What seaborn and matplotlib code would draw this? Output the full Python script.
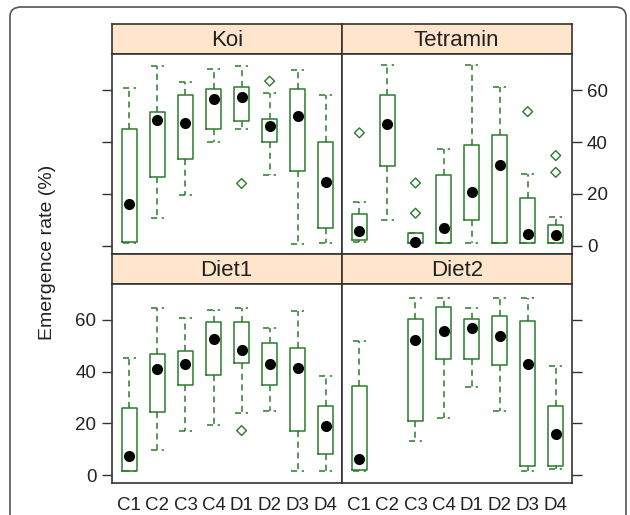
import matplotlib
matplotlib.use("Agg")
import matplotlib.pyplot as plt
from matplotlib.patches import FancyBboxPatch
import numpy as np
import pandas as pd
import seaborn as sns

# groups on the x axis
groups = ["C1", "C2", "C3", "C4", "D1", "D2", "D3", "D4"]
panels = ["Koi", "Tetramin", "Diet1", "Diet2"]

# five-number summaries: (low whisker, Q1, median, Q3, high whisker)
koi_box = [(1, 1.3, 16.2, 45.2, 61), (10.8, 26.6, 48.6, 51.7, 69.5),
           (19.5, 33.6, 47.4, 58.2, 63.4), (40.1, 45.2, 56.6, 60.6, 68.2),
           (45.2, 48.2, 57.4, 61.3, 69.5), (27.1, 40, 46.1, 48.8, 59.1),
           (0.6, 29, 50.3, 60.4, 67.9), (1, 6.8, 24.4, 40, 58.4)]
tetramin_box = [(1.3, 2.3, 5.6, 12.3, 17), (9.9, 30.9, 47.1, 58.2, 69.9),
                (1, 1, 1.3, 4.9, 5), (1, 1, 6.6, 27.4, 37.4),
                (1, 9.9, 20.8, 38.7, 69.9), (1, 1, 31.3, 42.7, 61.4),
                (1, 1, 4.3, 18.2, 27.7), (1, 1, 3.9, 7.8, 11.2)]
diet1_box = [(1.5, 1.5, 7.3, 26, 45.2), (9.5, 24.3, 40.9, 46.9, 64.8),
             (16.9, 34.7, 43, 48.1, 60.7), (19.2, 38.8, 52.6, 59, 63.7),
             (23.9, 43.4, 48.4, 59, 64.8), (24.9, 34.7, 43, 51, 56.7),
             (1.5, 16.9, 41.4, 49.2, 63.5), (1.5, 8.3, 19, 26.7, 38.2)]
diet2_box = [(1.5, 1.9, 6, 34.5, 52), None,
             (13.2, 20.7, 52.1, 60.4, 68.6), (22, 45, 55.6, 65.1, 68.6),
             (34.1, 45, 56.8, 60.4, 64.5), (24.6, 42.5, 53.9, 61.7, 68.6),
             (1.5, 3.4, 42.8, 59.4, 68.6), (2.3, 3.6, 16, 26.6, 42.1)]

# outlying points
koi_out = {"D1": [24], "D2": [63.6]}
tetramin_out = {"C1": [43.6], "C3": [24.2, 12.5], "D3": [51.8], "D4": [34.8, 28.3]}
diet1_out = {"D1": [17.2]}
diet2_out = {}

boxes = {"Koi": koi_box, "Tetramin": tetramin_box, "Diet1": diet1_box, "Diet2": diet2_box}
outs = {"Koi": koi_out, "Tetramin": tetramin_out, "Diet1": diet1_out, "Diet2": diet2_out}

rows, meds, flier_rows = [], [], []
for p in panels:
    for g, stats in zip(groups, boxes[p]):
        if stats is None:
            continue
        for v in stats:
            rows.append({"panel": p, "group": g, "rate": v})
        meds.append({"panel": p, "group": g, "rate": stats[2]})
    for g, vals in outs[p].items():
        for v in vals:
            flier_rows.append({"panel": p, "group": g, "rate": v})
df = pd.DataFrame(rows)
med_df = pd.DataFrame(meds)
out_df = pd.DataFrame(flier_rows)

sns.set_style("white")
plt.rcParams["font.family"] = ["Liberation Sans", "DejaVu Sans"]
green = "#2b7a2b"
frame = "#333333"
txt = "#222222"

fig = plt.figure(figsize=(6.3, 5.15), dpi=100)
gs = fig.add_gridspec(4, 2, height_ratios=[30, 200, 30, 200], hspace=0, wspace=0,
                      left=0.1773, right=0.9075, top=0.9528, bottom=0.0616)

dash = (0, (4, 3))
for i, p in enumerate(panels):
    r, c = divmod(i, 2)
    strip = fig.add_subplot(gs[2 * r, c])
    ax = fig.add_subplot(gs[2 * r + 1, c])

    strip.set_facecolor("#ffe5cc")
    strip.set_xticks([])
    strip.set_yticks([])
    strip.text(0.5, 0.45, p, ha="center", va="center", fontsize=16, color=txt,
               transform=strip.transAxes)

    sns.boxplot(data=df[df.panel == p], x="group", y="rate", order=groups, ax=ax,
                whis=np.inf, fill=False, color=green, width=0.55, linewidth=1.1,
                capwidths=0.48,
                medianprops={"linewidth": 0},
                whiskerprops={"linestyle": dash},
                capprops={"linestyle": dash})
    sns.stripplot(data=med_df[med_df.panel == p], x="group", y="rate", order=groups,
                  ax=ax, jitter=False, color="black", size=8, zorder=5)
    sub_out = out_df[out_df.panel == p]
    if len(sub_out):
        sns.stripplot(data=sub_out, x="group", y="rate", order=groups, ax=ax,
                      jitter=False, marker="D", size=5, facecolors="none",
                      edgecolor=green, linewidth=1, zorder=4)

    ax.set_xlim(-0.63, 7.57)
    ax.set_ylim(-3.2, 74)
    ax.set_yticks([0, 20, 40, 60])
    ax.set_xlabel("")
    ax.set_ylabel("")
    for a in (ax, strip):
        for s in a.spines.values():
            s.set_color(frame)
            s.set_linewidth(1.2)

    left = c == 0
    ax.tick_params(axis="y", direction="out", length=7, width=1, color=frame,
                   labelsize=13.5, labelcolor=txt, pad=4,
                   left=left, right=not left,
                   labelleft=(left and r == 1), labelright=(not left and r == 0))
    ax.tick_params(axis="x", length=0, pad=10, labelsize=13.5, labelcolor=txt,
                   labelbottom=(r == 1))

fig.text(0.075, 0.509, "Emergence rate (%)", rotation=90, ha="center", va="center",
         fontsize=14, color=txt)

# rounded outer frame, open at the bottom edge of the picture
fig.patches.append(FancyBboxPatch((10 / 630, -0.1), 616 / 630, 1.1 - 7 / 515,
                                  boxstyle="round,pad=0,rounding_size=0.018",
                                  transform=fig.transFigure, fill=False,
                                  edgecolor="#555555", linewidth=1.2, clip_on=False))

fig.savefig("out.png", dpi=100)
